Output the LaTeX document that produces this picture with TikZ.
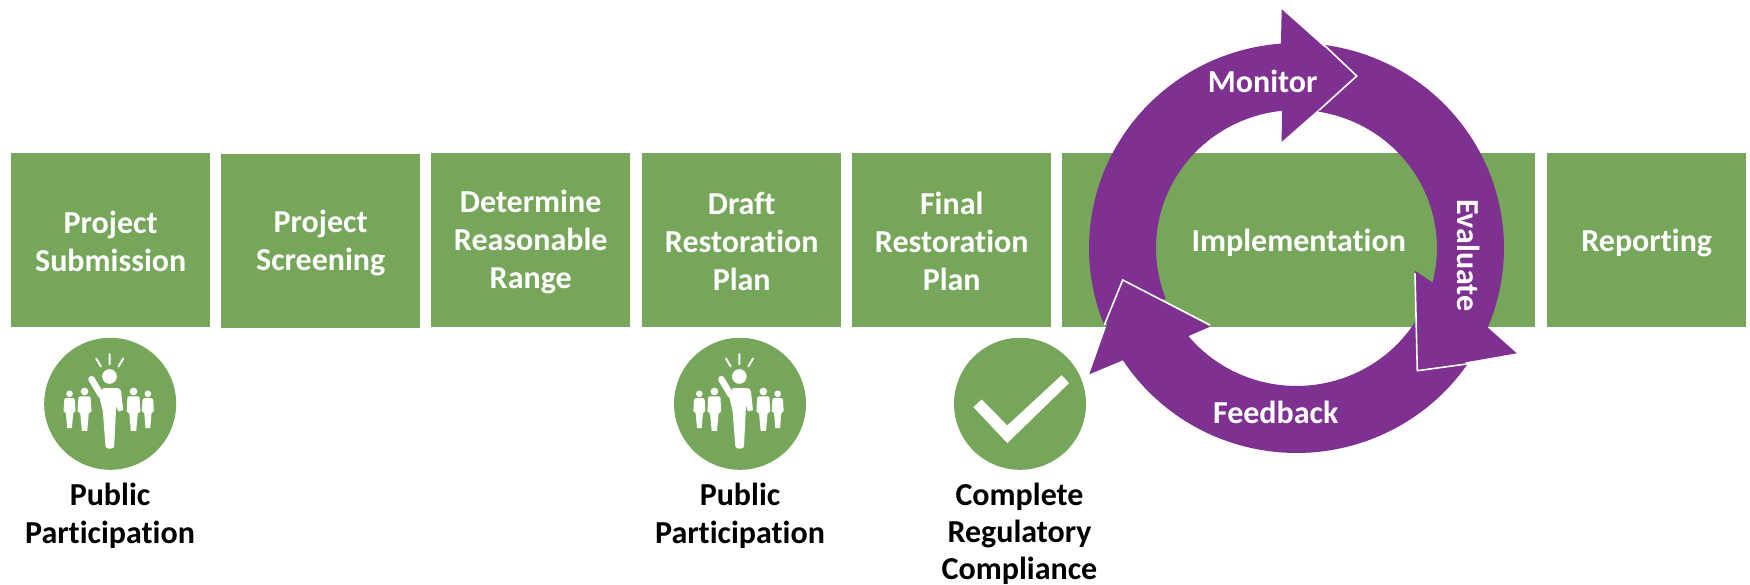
\documentclass[tikz,border=0pt]{standalone}
\usepackage{fontspec}
\setmainfont{Carlito}[Ligatures=NoCommon]
\definecolor{boxgreen}{HTML}{76A65A}
\definecolor{ringpurple}{HTML}{7F3191}
\newcommand{\smallfigure}[3]{%
  \begin{scope}[shift={(#1,#2)},x=#3pt,y=-#3pt]
    \fill[white] (0,0) circle (10);
    \fill[white] (-12,13) -- (12,13) .. controls (15,13) and (16,15) .. (16,18) -- (18,52) -- (11,58) -- (7,103) -- (-7,103) -- (-11,58) -- (-18,52) -- (-16,18) .. controls (-16,15) and (-15,13) .. (-12,13) -- cycle;
  \end{scope}}
\tikzset{
  x=1pt,y=-1pt,
  stepbox/.style={fill=boxgreen,draw=none,minimum width=199pt,minimum height=174pt,inner sep=0pt,anchor=north west},
  steptext/.style={text=white,align=center,inner sep=0pt,yshift=-1.4pt,font=\fontsize{32}{38}\selectfont\bfseries},
  ringarrow/.style={fill=ringpurple,draw=none},
  whiteedge/.style={draw=white,line width=1.6pt,line join=miter},
  ringlabel/.style={text=white,font=\fontsize{32}{38}\selectfont\bfseries,inner sep=0pt},
  badge/.style={circle,fill=boxgreen,draw=none,minimum size=132pt,inner sep=0pt},
  caption/.style={text=black,align=center,inner sep=0pt,anchor=north,font=\fontsize{32}{38.3}\selectfont\bfseries},
  crowd/.pic={
    \begin{scope}[x=0.3333pt,y=-0.3333pt,shift={(-240,-217)}]
      \fill[white] (238,135) circle (22);
      \draw[white,line width=6.5pt,line cap=round] (184,143) -- (212,190);
      \fill[white] (205,185) -- (220,170) -- (262,170) .. controls (270,170) and (272,176) .. (273,182) -- (279,236) -- (264,240) -- (258,222) -- (252,345) .. controls (250,354) and (228,354) .. (226,345) -- (218,240) -- cycle;
      \draw[white,line width=2pt,line cap=round] (198,81) -- (212,105) (238,68) -- (238,98) (279,81) -- (265,105);
      \smallfigure{118}{187}{0.3333}
      \smallfigure{163}{180}{0.3833}
      \smallfigure{310}{180}{0.3833}
      \smallfigure{353}{187}{0.3333}
    \end{scope}
  },
  tick/.pic={
    \begin{scope}[x=0.3333pt,y=-0.3333pt,shift={(-240,-222)}]
      \fill[white] (100,232) -- (125,209) -- (202,287) -- (365,136) -- (387,160) -- (202,340) -- cycle;
    \end{scope}
  }
}
\begin{document}
\begin{tikzpicture}
\useasboundingbox (0,0) rectangle (1750,585);
% process steps
\node[stepbox] (submission) at (11,153) {};
\node[stepbox] (screening) at (221,154) {};
\node[stepbox] (range) at (431,153) {};
\node[stepbox] (draft) at (642,153) {};
\node[stepbox] (final) at (852,153) {};
\node[stepbox,minimum width=473pt] (impl) at (1062,153) {};
\node[stepbox] (reporting) at (1547,153) {};
\node[steptext] (submissiont) at (submission.center) {Project\\Submission};
\node[steptext] (screeningt) at (screening.center) {Project\\Screening};
\node[steptext] (ranget) at (range.center) {Determine\\Reasonable\\Range};
\node[steptext] (draftt) at (draft.center) {Draft\\Restoration\\Plan};
\node[steptext] (finalt) at (final.center) {Final\\Restoration\\Plan};
\node[steptext,yshift=-1pt] (implt) at (impl.center) {Implementation};
\node[steptext,yshift=-1pt] (reportingt) at (reporting.center) {Reporting};

% cycle: centre (1296.5,248), outer radii 207.5/205, inner radii 140.5/138
\fill[ringarrow] (1103.7,323.8) arc[start angle=-201.7,end angle=-94.3,x radius=207.5,y radius=205]
  -- (1281.7,9.3) -- (1356.7,76) -- (1281.7,141.7) -- (1281.8,110.8)
  arc[start angle=-96,end angle=-201.5,x radius=140.5,y radius=138] -- cycle;
\fill[ringarrow] (1325,45) arc[start angle=-82.1,end angle=22.8,x radius=207.5,y radius=205]
  -- (1516.7,353.3) -- (1417.3,370.7) -- (1415,270.7) -- (1432.5,282.5)
  arc[start angle=14.5,end angle=-80.9,x radius=140.5,y radius=138] -- cycle;
\fill[ringarrow] (1467.3,364.4) arc[start angle=34.6,end angle=146.8,x radius=207.5,y radius=205]
  -- (1089.3,374.3) -- (1122.7,280) -- (1210,326.7) -- (1188.4,336.1)
  arc[start angle=140.3,end angle=30.3,x radius=140.5,y radius=138] -- cycle;
\draw[whiteedge] (1323.3,44.3) -- (1356.7,76) -- (1319.3,110);
\draw[whiteedge] (1415,273.3) -- (1417.3,370.7) -- (1466.7,364);
\draw[whiteedge] (1104.3,325) -- (1122.7,280) -- (1210,325);
\node[ringlabel] (monitor) at (1262.7,81) {Monitor};
\node[ringlabel,rotate=-90] (evaluate) at (1469,255.3) {Evaluate};
\node[ringlabel] (feedback) at (1275.7,412) {Feedback};

% badges
\node[badge] (badgea) at (110.2,403.8) {};
\node[badge] (badgeb) at (740,403.8) {};
\node[badge] (badgec) at (1020,403.8) {};
\pic at (badgea.center) {crowd};
\pic at (badgeb.center) {crowd};
\pic at (badgec.center) {tick};
\node[caption] (capa) at (110,483) {Public\\Participation};
\node[caption] (capb) at (740,483) {Public\\Participation};
\node[caption,font=\fontsize{32}{37}\selectfont\bfseries] (capc) at (1019.5,482.5) {Complete\\Regulatory\\Compliance};
\end{tikzpicture}
\end{document}
